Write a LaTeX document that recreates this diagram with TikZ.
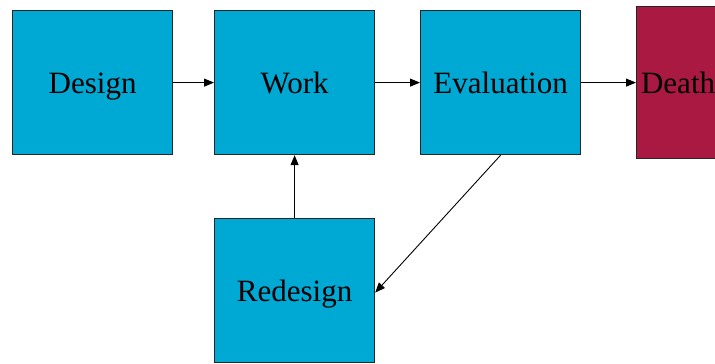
\documentclass[tikz,border=0pt]{standalone}
\usepackage{fontspec}
\setmainfont{Liberation Serif}
\usetikzlibrary{arrows.meta}
\definecolor{boxblue}{RGB}{0,168,212}
\definecolor{boxred}{RGB}{170,25,66}
\begin{document}
\begin{tikzpicture}[x=1pt,y=-1pt,
  stage/.style={draw=black!85,line width=1.2pt,fill=boxblue,minimum width=160pt,minimum height=144pt,inner sep=0pt,text height=21pt,text depth=0pt,font=\fontsize{31}{36}\selectfont,anchor=north west},
  conn/.style={line width=0.9pt,-{Triangle[length=10pt,width=8pt]}}]
\useasboundingbox (0,0) rectangle (715,364);
\begin{scope}
\clip (0,0) rectangle (715,364);
\node[stage] (design) at (12,10) {Design};
\node[stage] (work) at (214,10) {Work};
\node[stage] (eval) at (420,10) {Evaluation};
\node[stage,fill=boxred,minimum width=90pt,minimum height=152pt] (death) at (636,6) {\hspace*{-7pt}Death};
\node[stage] (redesign) at (214,218) {Redesign};
\end{scope}
\draw[conn] (design.east) -- (work.west);
\draw[conn] (work.east) -- (eval.west);
\draw[conn] (eval.east) -- (death.west |- eval.east);
\draw[conn] (redesign.north) -- (work.south);
\draw[conn] (eval.south) -- ([yshift=-2pt]redesign.east);
\end{tikzpicture}
\end{document}
